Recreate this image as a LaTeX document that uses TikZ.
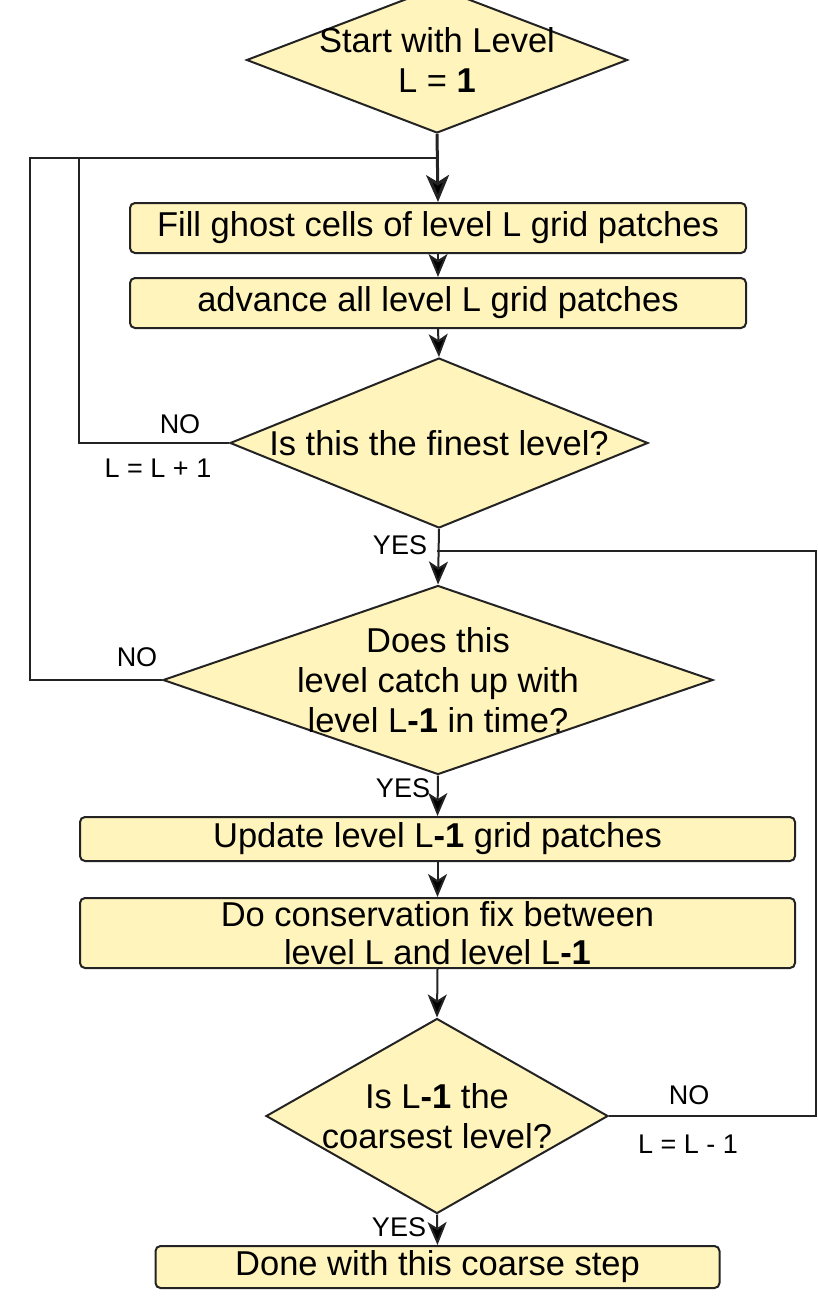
\documentclass[tikz,border=0pt]{standalone}
\usepackage{fontspec}
\setmainfont{Liberation Sans}
\usetikzlibrary{shapes.geometric,arrows.meta}
\definecolor{boxfill}{RGB}{255,244,188}
\definecolor{edgegray}{RGB}{35,35,35}

\begin{document}
\begin{tikzpicture}[
	x=1pt,y=-1pt,
	bnode/.style={rectangle,rounded corners=5pt,draw=edgegray,fill=boxfill,line width=2pt,inner sep=0pt,font=\fontsize{34.5}{38}\selectfont,align=center},
	dnode/.style={diamond,draw=edgegray,fill=boxfill,line width=2pt,inner sep=-300pt,font=\fontsize{34.5}{40}\selectfont,align=center},
	fedge/.style={draw=edgegray,line width=2pt},
	farrow/.style={fedge,-{Stealth[length=23pt,width=19pt,inset=6pt,fill=black]}},
	flab/.style={font=\fontsize{27}{30}\selectfont,inner sep=0pt}
	]
	\useasboundingbox (0,0) rectangle (818,1301);
	% main column
	\node[dnode,minimum width=381,minimum height=146] (start) at (437,60) {Start with Level\\L = \textbf{1}};
	\node[bnode,minimum width=616,minimum height=50] (fill) at (438,228) {Fill ghost cells of level L grid patches};
	\node[bnode,minimum width=616,minimum height=50] (adv) at (438,303) {advance all level L grid patches};
	\node[dnode,minimum width=418,minimum height=170] (finest) at (439,443) {Is this the finest level?};
	\node[dnode,minimum width=550,minimum height=189] (catch) at (438,680) {Does this\\level catch up with\\level L\textbf{-1} in time?};
	\node[bnode,minimum width=715,minimum height=44] (upd) at (437.5,839) {Update level L\textbf{-1} grid patches};
	\node[bnode,minimum width=715,minimum height=70] (cons) at (437.5,933) {Do conservation fix between\\level L and level L\textbf{-1}};
	\node[dnode,minimum width=342,minimum height=195] (coarse) at (437,1116) {Is L\textbf{-1} the\\coarsest level?};
	\node[bnode,minimum width=564,minimum height=42] (done) at (437.5,1267) {Done with this coarse step};

	% loop corners
	\coordinate (join) at (437,158);
	\coordinate (in1) at (79,158);
	\coordinate (out1) at (30,158);
	\coordinate (rjoin) at (437,551);
	\coordinate (rc) at (816,551);

	\draw[fedge,line width=3pt,-{Stealth[length=27pt,width=23pt,inset=7pt,fill=black]}] (start.south) -- (fill.north);
	\foreach \a/\b in {fill/adv,adv/finest,finest/catch,catch/upd,upd/cons,cons/coarse,coarse/done}{
		\draw[farrow] (\a.south) -- (\b.north);
	}
	\draw[fedge] (finest.west) -| (in1) -- (join);
	\draw[fedge] (catch.west) -| (out1) -- (join);
	\draw[fedge] (coarse.east) -| (rc) -- (rjoin);

	% branch labels
	\node[flab] (no1) at (180,424) {NO};
	\node[flab] (inc) at (158,468) {L = L + 1};
	\node[flab] (yes1) at (400,545) {YES};
	\node[flab] (no2) at (137,657) {NO};
	\node[flab] (yes2) at (403,788) {YES};
	\node[flab] (no3) at (689,1095) {NO};
	\node[flab] (dec) at (688,1144) {L = L - 1};
	\node[flab] (yes3) at (399,1227) {YES};
\end{tikzpicture}
\end{document}
